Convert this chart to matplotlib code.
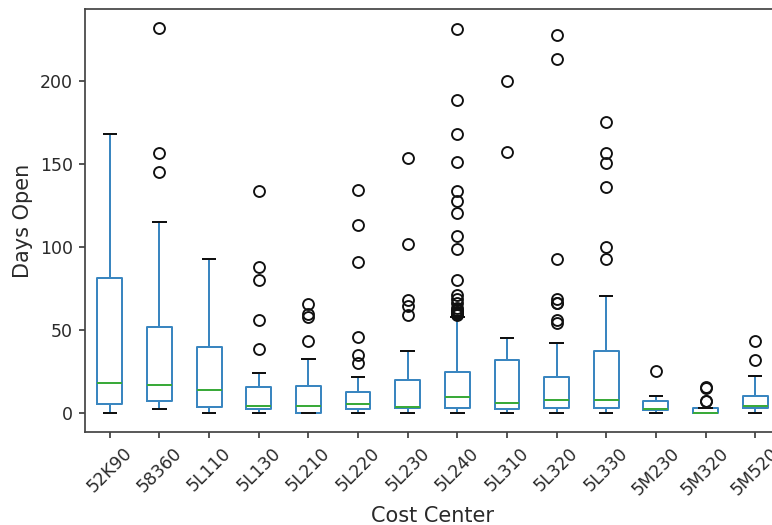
import matplotlib
matplotlib.use("Agg")
import matplotlib.pyplot as plt

categories = ["52K90", "58360", "5L110", "5L130", "5L210", "5L220", "5L230",
              "5L240", "5L310", "5L320", "5L330", "5M230", "5M320", "5M520"]
whislo = [0, 2.4, 0, 0, 0, 0, 0, 0, 0, 0, 0, 0, 0, 0]
q1 = [5.3, 7.1, 3.2, 2.0, 0.0, 2.0, 3.0, 2.6, 2.0, 2.6, 2.6, 1.5, 0.0, 2.6]
med = [17.8, 17.0, 13.7, 4.0, 4.0, 5.4, 3.6, 9.3, 6.0, 7.7, 7.7, 2.5, 0.0, 4.0]
q3 = [81.3, 52.0, 39.5, 15.4, 16.1, 12.7, 19.8, 24.8, 31.9, 21.8, 37.3, 7.1, 2.6, 10.1]
whishi = [168, 115.3, 93, 23.8, 32.3, 21.4, 37.3, 58.0, 45.0, 42.0, 70.2, 10.1, 2.6, 22.0]
fliers = [
    [],
    [232, 156.5, 145],
    [],
    [134, 87.7, 80.3, 56, 38.7],
    [65.7, 59.5, 58, 43.4],
    [134.7, 113, 91, 46, 35, 30],
    [153.8, 102, 68.2, 64.5, 58.7],
    [231.4, 188.7, 168.3, 151.2, 134, 127.6, 120.6, 106.9, 98.8, 80.3,
     71, 68.5, 66, 63.5, 62, 61, 60.5, 60, 59.5, 59],
    [200.2, 157.5],
    [227.8, 213.7, 92.8, 68.6, 66.5, 66, 56, 54],
    [175.6, 156.9, 150.8, 136.3, 99.8, 92.8],
    [25.4],
    [15.7, 15.2, 7.3, 7.0],
    [43, 31.9],
]

stats = []
for i, name in enumerate(categories):
    stats.append(dict(label=name, whislo=whislo[i], q1=q1[i], med=med[i],
                      q3=q3[i], whishi=whishi[i], fliers=fliers[i]))

fig = plt.figure(figsize=(772 / 125, 525 / 125), dpi=125)
ax = fig.add_axes([85 / 772, 93 / 525, 695 / 772, 423 / 525])

blue = "#3a86c0"
lw = 1.15
ax.bxp(stats, widths=0.5,
       boxprops=dict(color=blue, linewidth=lw),
       whiskerprops=dict(color=blue, linewidth=lw),
       capprops=dict(color="#111111", linewidth=lw),
       medianprops=dict(color="#3aaa3a", linewidth=lw),
       flierprops=dict(marker="o", markeredgecolor="#111111", markerfacecolor="none",
                       markersize=6.3, markeredgewidth=1.1))

ax.set_xlim(0.5, 14.5)
ax.set_ylim(-11.6, 243.6)
ax.set_yticks([0, 50, 100, 150, 200])
ax.set_xticks(range(1, len(categories) + 1))
ax.set_xticklabels(categories, rotation=45)
ax.tick_params(labelsize=10, colors="#2a2a2a", width=0.9)
for s in ax.spines.values():
    s.set_color("#444444")
    s.set_linewidth(1.0)
ax.set_ylabel("Days Open", fontsize=12, color="#2a2a2a")
ax.set_xlabel("Cost Center", fontsize=12, color="#2a2a2a")

fig.savefig("out.png", dpi=125)
